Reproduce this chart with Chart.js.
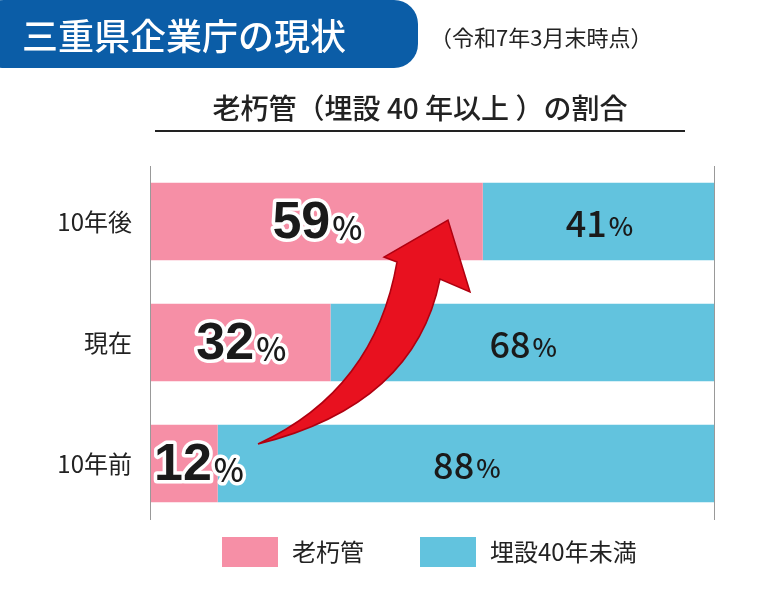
<!DOCTYPE html>
<html><head><meta charset="utf-8">
<script src="https://cdn.jsdelivr.net/npm/chart.js@4/dist/chart.umd.min.js"></script>
<style>body{margin:0;background:#fff}#wrap{width:763px;height:592px;position:relative}</style>
</head><body>
<div id="wrap"><canvas id="myChart" width="763" height="592"></canvas></div>
<script>
const categories = ['10年後', '現在', '10年前'];
const oldPipe = [59, 32, 12];
const newPipe = [41, 68, 88];
const seriesNames = ['老朽管', '埋設40年未満'];
const pink = '#F68FA6', blue = '#62C3DE';
const JP = '"Noto Sans CJK JP", sans-serif';

// 見出し・軸ラベル・数値・矢印を描く
const decorPlugin = {
    id: 'decor',
    afterDatasetsDraw(chart) {
        const ctx = chart.ctx, x = chart.scales.x, y = chart.scales.y, a = chart.chartArea;
        ctx.save();
        // タイトル枠
        ctx.fillStyle = '#0B5DA7';
        ctx.beginPath(); ctx.roundRect(-20, 0, 438, 68, 24); ctx.fill();
        ctx.fillStyle = '#fff'; ctx.font = '500 36px ' + JP; ctx.textBaseline = 'middle';
        ctx.fillText('三重県企業庁の現状', 22, 36);
        ctx.fillStyle = '#222'; ctx.font = '22px ' + JP;
        ctx.fillText('（令和7年3月末時点）', 430, 38);
        ctx.font = '500 28px ' + JP; ctx.textAlign = 'center';
        ctx.fillText('老朽管（埋設 40 年以上 ）の割合', 420, 108);
        ctx.fillRect(155, 130, 530, 2);
        // 縦線
        ctx.strokeStyle = '#999'; ctx.lineWidth = 1;
        [0, 100].forEach(v => { const px = Math.round(x.getPixelForValue(v)) + 0.5;
            ctx.beginPath(); ctx.moveTo(px, 166); ctx.lineTo(px, 520); ctx.stroke(); });
        // カテゴリ
        ctx.fillStyle = '#222'; ctx.font = '24px ' + JP; ctx.textAlign = 'right';
        categories.forEach((c, i) => ctx.fillText(c, 132, y.getPixelForValue(i)));
        // 矢印
        ctx.fillStyle = '#E8111F'; ctx.strokeStyle = '#B00010'; ctx.lineWidth = 1.5;
        ctx.beginPath();
        ctx.moveTo(258, 444);
        ctx.quadraticCurveTo(375, 390, 397, 262);
        ctx.lineTo(384, 257); ctx.lineTo(448, 220); ctx.lineTo(470, 292);
        ctx.lineTo(440, 279);
        ctx.quadraticCurveTo(415, 405, 258, 444);
        ctx.closePath(); ctx.fill(); ctx.stroke();
        // 数値
        categories.forEach((c, i) => {
            const cy = y.getPixelForValue(i) + 2;
            const big = '700 52px Arial, "Liberation Sans", sans-serif';
            const pct = '500 32px ' + JP;
            ctx.font = big; const w1 = ctx.measureText(String(oldPipe[i])).width;
            ctx.font = pct; const w2 = ctx.measureText('%').width;
            let sx = oldPipe[i] < 20 ? x.getPixelForValue(0) + 4 : (x.getPixelForValue(0) + x.getPixelForValue(oldPipe[i])) / 2 - (w1 + w2) / 2;
            ctx.textAlign = 'left'; ctx.lineJoin = 'round';
            ctx.font = big; ctx.strokeStyle = '#fff'; ctx.lineWidth = 7;
            ctx.strokeText(String(oldPipe[i]), sx, cy); ctx.fillStyle = '#1a1a1a'; ctx.fillText(String(oldPipe[i]), sx, cy);
            ctx.font = pct; ctx.strokeText('%', sx + w1 + 2, cy + 4); ctx.fillText('%', sx + w1 + 2, cy + 4);
            // 埋設40年未満
            const bx = (x.getPixelForValue(oldPipe[i]) + x.getPixelForValue(100)) / 2;
            ctx.font = '500 36px ' + JP; const b1 = ctx.measureText(String(newPipe[i])).width;
            ctx.font = '500 26px ' + JP; const b2 = ctx.measureText('%').width;
            const bs = bx - (b1 + b2) / 2;
            ctx.font = '500 36px ' + JP; ctx.fillText(String(newPipe[i]), bs, cy);
            ctx.font = '500 26px ' + JP; ctx.fillText('%', bs + b1 + 2, cy + 3);
        });
        // 凡例
        ctx.font = '24px ' + JP; ctx.fillStyle = pink; ctx.fillRect(222, 537, 56, 30);
        ctx.fillStyle = blue; ctx.fillRect(420, 537, 56, 30);
        ctx.fillStyle = '#222'; ctx.fillText(seriesNames[0], 292, 552); ctx.fillText(seriesNames[1], 490, 552);
        ctx.restore();
    }
};

new Chart(document.getElementById('myChart'), {
    type: 'bar',
    data: {
        labels: categories,
        datasets: [
            { label: seriesNames[0], data: oldPipe, backgroundColor: pink },
            { label: seriesNames[1], data: newPipe, backgroundColor: blue }
        ]
    },
    options: {
        indexAxis: 'y', responsive: false, animation: false,
        layout: { padding: { top: 161, left: 150, right: 49, bottom: 68 } },
        barPercentage: 0.64, categoryPercentage: 1,
        scales: {
            x: { stacked: true, min: 0, max: 100, display: false },
            y: { stacked: true, display: false }
        },
        plugins: { legend: { display: false }, tooltip: { enabled: false } }
    },
    plugins: [decorPlugin]
});
</script>
</body></html>
